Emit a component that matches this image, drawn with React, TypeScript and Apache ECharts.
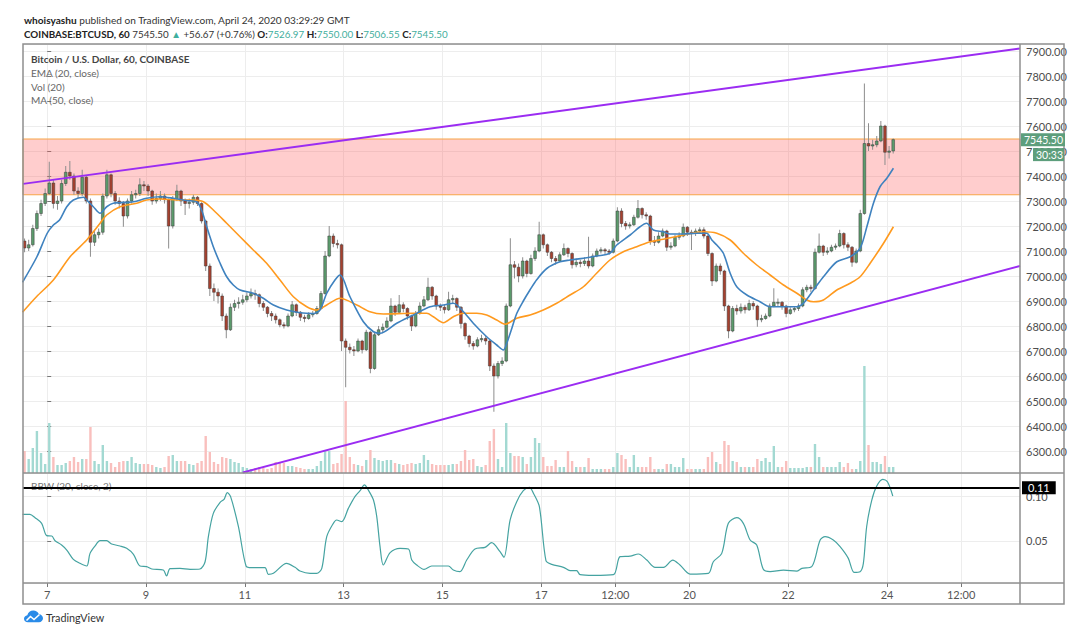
import React, { useEffect, useRef } from 'react';
import * as echarts from 'echarts';

// ---------- data (time in hours from Apr 7 2020 00:00 GMT) ----------
const FIRST_OPEN = 7140;
const BIN_HOURS = 2;
const FIRST_BIN_START = -12;

const closes = [
  7112, 7125, 7190, 7250, 7290, 7330, 7372, 7290, 7300, 7370,
  7415, 7400, 7340, 7330, 7395, 7300, 7135, 7165, 7175, 7320,
  7405, 7330, 7300, 7290, 7240, 7300, 7325, 7330, 7365, 7360,
  7340, 7300, 7310, 7320, 7305, 7200, 7310, 7340, 7300, 7290,
  7295, 7315, 7290, 7220, 7040, 6950, 6935, 6920, 6840, 6785,
  6875, 6890, 6895, 6905, 6920, 6930, 6925, 6890, 6875, 6850,
  6840, 6825, 6805, 6800, 6840, 6885, 6855, 6835, 6830, 6845,
  6850, 6870, 6930, 7080, 7160, 7130, 7125, 6740, 6715, 6705,
  6700, 6740, 6705, 6775, 6630, 6765, 6785, 6795, 6820, 6880,
  6855, 6885, 6870, 6840, 6800, 6850, 6880, 6905, 6955, 6920,
  6880, 6875, 6865, 6905, 6910, 6875, 6810, 6760, 6730, 6720,
  6745, 6750, 6740, 6640, 6600, 6650, 6660, 6880, 7045, 7035,
  7000, 7060, 7010, 7070, 7100, 7165, 7125, 7095, 7070, 7060,
  7085, 7110, 7090, 7045, 7055, 7050, 7060, 7040, 7080, 7100,
  7105, 7100, 7095, 7140, 7260, 7210, 7200, 7205, 7235, 7270,
  7245, 7240, 7140, 7135, 7160, 7180, 7115, 7120, 7155, 7160,
  7195, 7175, 7170, 7180, 7185, 7160, 7090, 6980, 7040, 7020,
  6880, 6780, 6870, 6860, 6875, 6865, 6890, 6880, 6825, 6830,
  6840, 6880, 6895, 6895, 6880, 6850, 6865, 6870, 6880, 6945,
  6955, 6950, 7095, 7120, 7095, 7100, 7115, 7120, 7170, 7125,
  7115, 7055, 7100, 7250, 7530, 7520, 7525, 7540, 7600, 7495,
  7500, 7545.5,
];

const highs = [
  7150, 7145, 7205, 7262, 7305, 7350, 7457, 7385, 7320, 7385,
  7440, 7460, 7410, 7355, 7425, 7400, 7310, 7185, 7190, 7330,
  7425, 7410, 7340, 7315, 7300, 7310, 7340, 7345, 7391, 7380,
  7368, 7345, 7330, 7340, 7330, 7310, 7320, 7365, 7345, 7310,
  7310, 7325, 7320, 7295, 7225, 7050, 6970, 6950, 6930, 6850,
  6890, 6905, 6915, 6925, 6935, 6950, 6945, 6930, 6900, 6880,
  6860, 6850, 6830, 6815, 6850, 6900, 6890, 6860, 6845, 6855,
  6860, 6880, 6940, 7100, 7200, 7170, 7145, 7130, 6750, 6730,
  6720, 6750, 6745, 6785, 6780, 6775, 6800, 6810, 6835, 6911,
  6885, 6924, 6895, 6875, 6845, 6860, 6895, 6920, 6993, 6960,
  6925, 6890, 6885, 6937, 6925, 6915, 6880, 6815, 6765, 6740,
  6755, 6765, 6760, 6745, 6650, 6660, 6675, 6890, 7151, 7060,
  7050, 7075, 7065, 7085, 7115, 7217, 7170, 7130, 7100, 7080,
  7095, 7130, 7115, 7095, 7070, 7065, 7075, 7157, 7090, 7110,
  7115, 7112, 7108, 7150, 7275, 7271, 7220, 7215, 7245, 7304,
  7275, 7255, 7245, 7160, 7175, 7190, 7185, 7135, 7165, 7175,
  7210, 7200, 7185, 7190, 7195, 7195, 7165, 7095, 7050, 7050,
  7025, 6885, 6880, 6885, 6890, 6885, 6905, 6900, 6885, 6845,
  6850, 6890, 6951, 6910, 6900, 6885, 6875, 6880, 6890, 6955,
  6965, 6965, 7110, 7170, 7125, 7115, 7125, 7130, 7185, 7175,
  7135, 7120, 7110, 7265, 7770, 7611, 7545, 7560, 7620, 7605,
  7520, 7550,
];

const lows = [
  7095, 7100, 7118, 7180, 7240, 7280, 7325, 7270, 7265, 7290,
  7360, 7385, 7325, 7310, 7320, 7290, 7077, 7120, 7150, 7165,
  7310, 7315, 7285, 7270, 7197, 7230, 7290, 7310, 7320, 7340,
  7320, 7285, 7290, 7300, 7290, 7110, 7190, 7300, 7280, 7244,
  7270, 7285, 7280, 7210, 7020, 6920, 6900, 6890, 6820, 6751,
  6780, 6860, 6870, 6885, 6895, 6910, 6905, 6875, 6860, 6835,
  6820, 6810, 6795, 6790, 6795, 6835, 6840, 6820, 6815, 6825,
  6835, 6845, 6865, 6925, 7075, 7115, 7110, 6700, 6555, 6690,
  6680, 6695, 6690, 6700, 6611, 6625, 6760, 6775, 6790, 6815,
  6840, 6850, 6855, 6825, 6780, 6795, 6845, 6875, 6900, 6905,
  6865, 6860, 6850, 6860, 6890, 6860, 6790, 6745, 6715, 6705,
  6715, 6735, 6725, 6620, 6457, 6590, 6640, 6655, 6875, 6990,
  6975, 6990, 6995, 7005, 7060, 7095, 7110, 7080, 7055, 7045,
  7055, 7080, 7075, 7030, 7035, 7035, 7040, 7030, 7035, 7075,
  7090, 7088, 7085, 7090, 7135, 7195, 7185, 7190, 7200, 7230,
  7230, 7225, 7125, 7120, 7130, 7155, 7100, 7105, 7115, 7145,
  7155, 7160, 7104, 7160, 7170, 7150, 7080, 6960, 6975, 7005,
  6860, 6751, 6775, 6845, 6850, 6850, 6860, 6865, 6797, 6815,
  6825, 6835, 6875, 6880, 6865, 6835, 6845, 6855, 6860, 6875,
  6935, 6935, 6945, 7090, 7080, 7085, 7095, 7105, 7115, 7110,
  7100, 7037, 7050, 7095, 7245, 7500, 7505, 7515, 7535, 7444,
  7470, 7490,
];

const volumes = [
  880, 560, 1000, 1680, 800, 360, 2000, 640, 320, 320,
  400, 480, 640, 440, 560, 560, 1840, 480, 360, 1120,
  480, 400, 240, 440, 480, 480, 640, 400, 360, 360,
  360, 320, 240, 200, 240, 680, 720, 480, 480, 480,
  360, 320, 400, 480, 1480, 840, 440, 360, 640, 600,
  560, 440, 400, 240, 200, 160, 200, 240, 200, 160,
  200, 440, 440, 400, 280, 280, 240, 200, 160, 160,
  160, 280, 480, 880, 880, 360, 400, 760, 2880, 640,
  360, 320, 280, 520, 920, 600, 520, 480, 520, 520,
  400, 360, 320, 360, 400, 360, 400, 720, 520, 360,
  320, 320, 320, 320, 360, 360, 480, 920, 520, 560,
  280, 240, 320, 1280, 1760, 560, 240, 2000, 800, 680,
  680, 640, 360, 640, 1400, 1200, 640, 280, 280, 520,
  240, 240, 880, 480, 240, 240, 240, 600, 160, 160,
  160, 160, 160, 240, 800, 720, 560, 240, 720, 240,
  240, 240, 640, 160, 160, 160, 360, 360, 240, 240,
  600, 160, 160, 160, 160, 160, 640, 840, 440, 360,
  1280, 1120, 480, 440, 240, 240, 240, 240, 560, 480,
  600, 440, 1080, 240, 240, 480, 200, 200, 200, 200,
  240, 240, 1160, 640, 240, 240, 240, 240, 440, 240,
  400, 160, 160, 480, 4280, 1120, 440, 440, 360, 680,
  240, 240,
];

// [hour, value]
const emaLine = [
  [-12, 6975], [-5, 7077], [0, 7171], [3, 7204], [6, 7224], [9.5, 7277], [12.7, 7304], [17.6, 7315],
  [19.2, 7304], [22.4, 7277], [25.7, 7251], [28.9, 7277], [32.1, 7291], [41.9, 7297], [48.3, 7311],
  [54.8, 7317], [61.3, 7311], [67.8, 7302], [72.6, 7297], [75, 7264], [77.5, 7197], [80.7, 7117],
  [84, 7051], [87.2, 6997], [90.4, 6964], [93.7, 6944], [100.1, 6931], [105, 6911], [109.9, 6884],
  [116.3, 6864], [122.8, 6853], [129.3, 6850], [132.5, 6864], [135.8, 6931], [139.8, 6984], [142.3, 7004],
  [147.1, 6917], [153.6, 6817], [158.5, 6777], [161.7, 6771], [169.8, 6811], [177.9, 6844], [186, 6877],
  [192.5, 6884], [197.3, 6891], [202.2, 6857], [207, 6811], [213.5, 6757], [218.4, 6724], [221.6, 6704],
  [223.2, 6730], [225.7, 6790], [228.1, 6850], [231.3, 6900], [234.6, 6945], [237.8, 6985], [242.7, 7030],
  [249.1, 7057], [254, 7064], [260.5, 7071], [266.9, 7080], [273.4, 7091], [276.7, 7124], [283.2, 7164],
  [288, 7197], [291.2, 7211], [294.5, 7184], [299.3, 7177], [302.6, 7168], [309.1, 7168], [315.6, 7171],
  [320.4, 7171], [322.9, 7144], [325.3, 7124], [328.5, 7091], [331.8, 7011], [335, 6957], [339.9, 6924],
  [346.3, 6897], [351.2, 6877], [357.7, 6877], [364.2, 6877], [367.4, 6891], [372.3, 6944], [377.1, 6997],
  [383.6, 7057], [390.1, 7077], [394.9, 7111], [398.2, 7197], [401.4, 7291], [404.6, 7357], [407.9, 7391],
  [411.1, 7431],
];

const maLine = [
  [-12, 6855], [-5.1, 6918], [3, 6984], [11.1, 7077], [19.2, 7144], [25.7, 7211], [28.9, 7244], [35.4, 7277],
  [43.5, 7291], [48.3, 7304], [54.8, 7308], [64.5, 7304], [71, 7304], [75.9, 7297], [80.7, 7264], [87.2, 7211],
  [93.7, 7157], [100.1, 7104], [106.6, 7051], [113.1, 6984], [119.6, 6917], [126.1, 6877], [130.9, 6864],
  [135.8, 6884], [142.3, 6911], [150.4, 6884], [156.8, 6857], [163.3, 6848], [177.9, 6851], [184.4, 6851],
  [187.6, 6837], [192.5, 6813], [197.3, 6837], [202.2, 6851], [208.7, 6851], [213.5, 6844], [218.4, 6824],
  [222.4, 6807], [228.1, 6831], [234.6, 6844], [241, 6864], [247.5, 6891], [254, 6924], [260.5, 6957],
  [266.9, 7011], [273.4, 7064], [279.9, 7097], [286.4, 7117], [292.9, 7137], [299.3, 7147], [309.1, 7164],
  [318.8, 7177], [325.3, 7171], [331.8, 7144], [338.2, 7091], [344.7, 7044], [351.2, 7004], [357.7, 6964],
  [364.2, 6931], [369, 6904], [372.3, 6897], [377.1, 6904], [383.6, 6944], [390.1, 6971], [394.9, 6997],
  [399.8, 7051], [406.3, 7131], [411.1, 7197],
];

const bbwLine = [
  [-12, 0.0801], [-8.4, 0.0801], [-5.9, 0.0763], [-2.7, 0.0699], [-0.25, 0.056], [2.2, 0.0556], [3.8, 0.0503],
  [7, 0.0455], [9.5, 0.0398], [12.7, 0.0293], [15.9, 0.0248], [19.2, 0.0218], [20.8, 0.036], [23.2, 0.0443],
  [25.7, 0.0503], [28.9, 0.0503], [31.3, 0.0466], [35.4, 0.0443], [38.6, 0.0417], [41.9, 0.0349], [45.1, 0.0218],
  [48.3, 0.021], [50.8, 0.0184], [56.4, 0.0172], [58, 0.0105], [59.7, 0.0188], [64.5, 0.0191], [69.4, 0.018],
  [74.2, 0.0184], [76.7, 0.0266], [78.3, 0.0549], [80.7, 0.0812], [84, 0.0936], [85.9, 0.097], [87.5, 0.1045],
  [89.1, 0.1], [92.9, 0.0661], [96.6, 0.0218], [99.3, 0.0199], [105.8, 0.0199], [107.4, 0.0124], [109.9, 0.0135],
  [116.3, 0.0248], [120.4, 0.0203], [122.8, 0.0161], [127.7, 0.0135], [130.9, 0.0135], [133.4, 0.0191],
  [135.8, 0.0549], [139, 0.0699], [140.6, 0.0737], [143.1, 0.0718], [146.3, 0.0868], [149.5, 0.1], [152, 0.1068],
  [154.1, 0.1132], [156, 0.1075], [158.5, 0.0962], [160.1, 0.0774], [161.7, 0.0436], [163.3, 0.0229],
  [166.6, 0.0368], [171.4, 0.0417], [175.5, 0.0409], [177.1, 0.0285], [179.5, 0.0229], [183.1, 0.018],
  [186.8, 0.0218], [194.9, 0.0218], [197.3, 0.0172], [200.5, 0.0154], [203.8, 0.0285], [207.8, 0.0409],
  [212.7, 0.0428], [215.9, 0.0481], [220, 0.0379], [221.9, 0.0315], [224.9, 0.0737], [228.1, 0.0944],
  [231.3, 0.1068], [234.3, 0.1105], [236.2, 0.1038], [239.1, 0.0887], [242.3, 0.0278], [245.1, 0.0236],
  [250.8, 0.0203], [254, 0.0165], [257.2, 0.0165], [258.9, 0.012], [265.3, 0.0112], [275.1, 0.012],
  [278.3, 0.0323], [283.2, 0.033], [287.2, 0.0353], [291.3, 0.0285], [295.3, 0.0203], [299.4, 0.0203],
  [303.9, 0.0285], [307.4, 0.0229], [312.3, 0.0127], [321.2, 0.0135], [323.6, 0.0266], [327.7, 0.036],
  [330.9, 0.0699], [335, 0.0763], [338.2, 0.0699], [341.5, 0.0511], [344.7, 0.0455], [347.9, 0.018],
  [351.2, 0.0154], [357.7, 0.0172], [364.1, 0.0161], [366.6, 0.0191], [371.4, 0.021], [375.5, 0.0511],
  [377.9, 0.0549], [381.9, 0.0511], [385.2, 0.0436], [389.2, 0.0304], [392, 0.0146], [394.9, 0.0154],
  [396.5, 0.0248], [398.1, 0.0661], [400.6, 0.0962], [403, 0.112], [405.9, 0.1196], [408.2, 0.1169],
  [410.8, 0.1008],
];

const tickHours = [0, 48, 96, 144, 192, 240, 276, 312, 360, 408, 444];
const tickLabels = ['7', '9', '11', '13', '15', '17', '12:00', '20', '22', '24', '12:00'];

const zoneBounds = [7325, 7548];
const upperTrend = [[-11.76, 7368.5], [472.6, 7910]];
const lowerTrend = [[95, 6214], [472.6, 7040]];
const bbwLevel = 0.11;
const countdown = '30:33';

// ---------- layout / style ----------
const FONT = 'Lato, "Open Sans", sans-serif';
const X_MIN = -11.76;
const X_MAX = 472.6;
const PRICE_MIN = 6212;
const PRICE_MAX = 7928;
const VOL_MAX = 17160;
const BBW_MIN = 0.0026;
const BBW_MAX = 0.1267;
const UP = '#5b9b6c';
const DOWN = '#a6412f';
const VOL_UP = '#a3d9d2';
const VOL_DOWN = '#f9bfbd';
const GRID_C = '#ededed';
const FRAME = '#8f8f8f';
const TEAL = '#3fae9d';
const PRICE_BOX = '#5d9e7c';

const CLOUD =
  'M4 13 C1.8 13 0 11.3 0 9.2 C0 7.2 1.5 5.6 3.5 5.4 C4.2 2.5 6.8 0.5 9.8 0.5 C12.4 0.5 14.6 2 15.6 4.2 C18.1 4.4 20 6.4 20 8.8 C20 11.1 18.1 13 15.8 13 Z';
echarts.graphic.registerShape('tvCloud', echarts.graphic.extendPath(CLOUD, {}));

function buildOption() {
  const candleData = closes.map((c, i) => {
    const o = i === 0 ? FIRST_OPEN : closes[i - 1];
    const t = FIRST_BIN_START + BIN_HOURS * i + BIN_HOURS / 2;
    return [t, o, c, lows[i], highs[i]];
  });
  const volData = volumes.map((v, i) => ({
    value: [candleData[i][0], v],
    itemStyle: { color: candleData[i][2] >= candleData[i][1] ? VOL_UP : VOL_DOWN },
  }));
  const xLabel = (v: number) => {
    const k = tickHours.indexOf(Math.round(v));
    return k >= 0 ? tickLabels[k] : '';
  };

  return {
    animation: false,
    textStyle: { fontFamily: FONT },
    grid: [
      { left: 23, right: 48, top: 44, height: 429, outerBoundsMode: 'none' },
      { left: 23, right: 48, top: 473, height: 110, outerBoundsMode: 'none' },
    ],
    xAxis: [
      {
        type: 'value', gridIndex: 0, min: X_MIN, max: X_MAX,
        axisLine: { show: false },
        axisTick: { show: false, customValues: tickHours },
        axisLabel: { show: false, customValues: tickHours },
        splitLine: { show: true, lineStyle: { color: GRID_C, width: 1 } },
      },
      {
        type: 'value', gridIndex: 1, min: X_MIN, max: X_MAX,
        axisLine: { show: false },
        axisTick: { show: true, customValues: tickHours, length: 4, lineStyle: { color: '#777' } },
        axisLabel: { customValues: tickHours, formatter: xLabel, color: '#555', fontSize: 11, margin: 6, fontFamily: FONT },
        splitLine: { show: true, lineStyle: { color: GRID_C, width: 1 } },
      },
    ],
    yAxis: [
      {
        type: 'value', gridIndex: 0, position: 'right', min: PRICE_MIN, max: PRICE_MAX,
        minInterval: 100, maxInterval: 100,
        axisLine: { show: false },
        axisTick: { show: true, length: 4, lineStyle: { color: '#777' } },
        axisLabel: {
          formatter: (v: number) => v.toFixed(2), color: '#4d4d4d', fontSize: 11, margin: 6,
          showMinLabel: false, showMaxLabel: false, fontFamily: FONT,
        },
        splitLine: { show: true, lineStyle: { color: GRID_C, width: 1 } },
      },
      { type: 'value', gridIndex: 0, min: 0, max: VOL_MAX, show: false },
      {
        type: 'value', gridIndex: 1, position: 'right', min: BBW_MIN, max: BBW_MAX,
        minInterval: 0.05, maxInterval: 0.05,
        axisLine: { show: false },
        axisTick: { show: true, length: 4, lineStyle: { color: '#777' } },
        axisLabel: {
          formatter: (v: number) => v.toFixed(2), color: '#4d4d4d', fontSize: 11, margin: 6,
          showMinLabel: false, showMaxLabel: false, fontFamily: FONT,
        },
        splitLine: { show: true, lineStyle: { color: GRID_C, width: 1 } },
      },
    ],
    series: [
      {
        name: 'Vol', type: 'bar', xAxisIndex: 0, yAxisIndex: 1, data: volData, barWidth: 2.4, z: 1,
        silent: true,
      },
      {
        name: 'MA (50, close)', type: 'line', xAxisIndex: 0, yAxisIndex: 0, data: maLine,
        showSymbol: false, smooth: 0.3, z: 4, silent: true,
        lineStyle: { color: '#ff9a1f', width: 1.6 },
        markArea: {
          silent: true, z: 1,
          itemStyle: { color: 'rgba(255, 90, 90, 0.3)', borderColor: '#f7a547', borderWidth: 1 },
          data: [[{ yAxis: zoneBounds[1] }, { yAxis: zoneBounds[0] }]],
        },
      },
      {
        name: 'EMA (20, close)', type: 'line', xAxisIndex: 0, yAxisIndex: 0, data: emaLine,
        showSymbol: false, smooth: 0.3, z: 5, silent: true,
        lineStyle: { color: '#3f82bf', width: 1.6 },
      },
      {
        name: 'BTCUSD', type: 'custom', xAxisIndex: 0, yAxisIndex: 0, data: candleData, z: 3, clip: true,
        silent: true,
        encode: { x: 0, y: [1, 2, 3, 4] },
        renderItem: (params: any, api: any) => {
          const t = api.value(0);
          const o = api.value(1);
          const c = api.value(2);
          const lo = api.value(3);
          const hi = api.value(4);
          const pO = api.coord([t, o]);
          const pC = api.coord([t, c]);
          const pL = api.coord([t, lo]);
          const pH = api.coord([t, hi]);
          const w = api.size([BIN_HOURS, 0])[0] * 0.66;
          const up = c >= o;
          const top = Math.min(pO[1], pC[1]);
          const bh = Math.max(Math.abs(pO[1] - pC[1]), 1);
          return {
            type: 'group',
            children: [
              { type: 'line', shape: { x1: pH[0], y1: pH[1], x2: pL[0], y2: pL[1] }, style: { stroke: '#8d8d8d', lineWidth: 1 } },
              { type: 'rect', shape: { x: pO[0] - w / 2, y: top, width: w, height: bh }, style: { fill: up ? UP : DOWN, stroke: '#3b3b3b', lineWidth: 0.5 } },
            ],
          };
        },
        markLine: {
          silent: true, symbol: ['none', 'none'], z: 6,
          label: { show: false },
          lineStyle: { color: '#9b2cf2', width: 2, type: 'solid' },
          data: [
            [{ coord: upperTrend[0] }, { coord: upperTrend[1] }],
            [{ coord: lowerTrend[0] }, { coord: lowerTrend[1] }],
          ],
        },
      },
      {
        name: 'BBW (20, close, 2)', type: 'line', xAxisIndex: 1, yAxisIndex: 2, data: bbwLine,
        showSymbol: false, smooth: 0.3, z: 3, silent: true,
        lineStyle: { color: '#45a3a1', width: 1.2 },
        markLine: {
          silent: true, symbol: ['none', 'none'],
          data: [
            {
              yAxis: bbwLevel,
              lineStyle: { color: '#000', width: 2, type: 'solid' },
              label: {
                show: true, position: 'end', distance: 2, formatter: bbwLevel.toFixed(2),
                backgroundColor: '#000', color: '#fff', fontSize: 11, padding: [1, 6, 1, 6], fontFamily: FONT,
              },
            },
          ],
        },
      },
    ],
    graphic: [
      { id: 'frame', type: 'rect', z: 50, silent: true, shape: { x: 23, y: 44, width: 1041, height: 560 }, style: { fill: 'none', stroke: FRAME, lineWidth: 1.5 } },
      { id: 'sepV', type: 'line', z: 50, silent: true, shape: { x1: 1020, y1: 44, x2: 1020, y2: 604 }, style: { stroke: FRAME, lineWidth: 1.5 } },
      { id: 'sepH1', type: 'line', z: 50, silent: true, shape: { x1: 23, y1: 473, x2: 1064, y2: 473 }, style: { stroke: FRAME, lineWidth: 1.5 } },
      { id: 'sepH2', type: 'line', z: 50, silent: true, shape: { x1: 23, y1: 583, x2: 1064, y2: 583 }, style: { stroke: FRAME, lineWidth: 1.5 } },
      {
        id: 'head1', type: 'text', x: 24, y: 20, z: 50, silent: true,
        style: {
          text: '{b|whoisyashu} published on TradingView.com, April 24, 2020 03:29:29 GMT',
          fontSize: 10.1, fontFamily: FONT, fill: '#333', verticalAlign: 'middle',
          rich: { b: { fontWeight: 'bold', fontSize: 10.1, fontFamily: FONT, fill: '#222' } },
        },
      },
      {
        id: 'head2', type: 'text', x: 24, y: 34, z: 50, silent: true,
        style: {
          text: '{b|COINBASE:BTCUSD, 60} 7545.50 {g|▲} +56.67 (+0.76%) {b|O:}{g|7526.97} {b|H:}{g|7550.00} {b|L:}{g|7506.55} {b|C:}{g|7545.50}',
          fontSize: 9.8, fontFamily: FONT, fill: '#333', verticalAlign: 'middle',
          rich: {
            b: { fontWeight: 'bold', fontSize: 9.8, fontFamily: FONT, fill: '#222' },
            g: { fontSize: 9.8, fontFamily: FONT, fill: TEAL },
          },
        },
      },
      { id: 'lg1', type: 'text', x: 31, y: 59, z: 50, silent: true, style: { text: 'Bitcoin / U.S. Dollar, 60, COINBASE', fontSize: 10, fontWeight: 'bold', fontFamily: FONT, fill: '#444', verticalAlign: 'middle' } },
      { id: 'lg2', type: 'text', x: 31, y: 73, z: 50, silent: true, style: { text: 'EMA (20, close)', fontSize: 10, fontFamily: FONT, fill: '#666', verticalAlign: 'middle' } },
      { id: 'lg3', type: 'text', x: 31, y: 87, z: 50, silent: true, style: { text: 'Vol (20)', fontSize: 10, fontFamily: FONT, fill: '#666', verticalAlign: 'middle' } },
      { id: 'lg4', type: 'text', x: 31, y: 100, z: 50, silent: true, style: { text: 'MA (50, close)', fontSize: 10, fontFamily: FONT, fill: '#666', verticalAlign: 'middle' } },
      { id: 'lg5', type: 'text', x: 31, y: 486, z: 2, silent: true, style: { text: 'BBW (20, close, 2)', fontSize: 10, fontFamily: FONT, fill: '#777', verticalAlign: 'middle' } },
      { id: 'logo', type: 'tvCloud', x: 24, y: 610, scaleX: 0.95, scaleY: 0.95, z: 50, silent: true, style: { fill: '#2a8be8' } },
      { id: 'logoLine', type: 'polyline', z: 51, silent: true, shape: { points: [[26.5, 620.5], [30.5, 616.5], [34, 619.5], [39.5, 614.5]] }, style: { stroke: '#fff', lineWidth: 1.6, fill: 'none' } },
      { id: 'logoText', type: 'text', x: 46, y: 617, z: 50, silent: true, style: { text: 'TradingView', fontSize: 10.8, fontFamily: FONT, fill: '#333', verticalAlign: 'middle' } },
    ],
  };
}

export default function App() {
  const ref = useRef<HTMLDivElement>(null);
  useEffect(() => {
    if (!ref.current) return;
    const chart = echarts.init(ref.current, null, { renderer: 'svg' });
    chart.setOption(buildOption() as any);
    // current-price tag on the price scale, placed through the library's own y scale
    const lastClose = closes[closes.length - 1];
    const yPx = chart.convertToPixel({ yAxisIndex: 0 }, lastClose) as number;
    chart.setOption({
      graphic: [
        { id: 'pBox', type: 'rect', z: 60, silent: true, shape: { x: 1021, y: yPx - 6.5, width: 44, height: 13 }, style: { fill: PRICE_BOX } },
        { id: 'pText', type: 'text', z: 61, silent: true, x: 1024, y: yPx, style: { text: lastClose.toFixed(2), fontSize: 10.5, fontFamily: FONT, fill: '#fff', verticalAlign: 'middle' } },
        { id: 'cBox', type: 'rect', z: 60, silent: true, shape: { x: 1033, y: yPx + 8.5, width: 31, height: 13 }, style: { fill: PRICE_BOX } },
        { id: 'cText', type: 'text', z: 61, silent: true, x: 1036, y: yPx + 15, style: { text: countdown, fontSize: 10.5, fontFamily: FONT, fill: '#fff', verticalAlign: 'middle' } },
      ],
    } as any);
    return () => chart.dispose();
  }, []);
  return (
    <div
      ref={ref}
      style={{ position: 'absolute', left: 0, top: 0, width: 1068, height: 631, background: '#fff' }}
    />
  );
}
